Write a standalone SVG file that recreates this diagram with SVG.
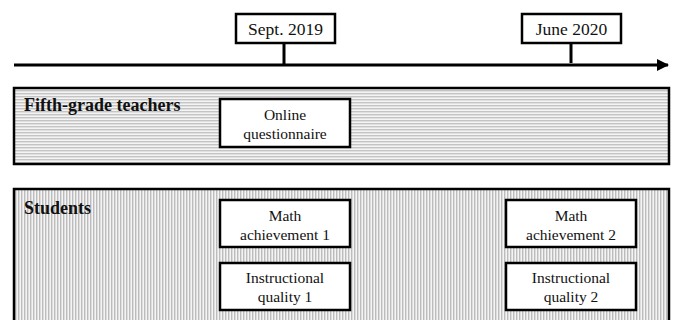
<svg xmlns="http://www.w3.org/2000/svg" width="674" height="320" viewBox="0 0 674 320">
<defs>
<pattern id="hstripe" width="4" height="3" patternUnits="userSpaceOnUse">
<rect width="4" height="3" fill="#f4f4f4"/>
<rect width="4" height="1.4" fill="#c4c4c4"/>
</pattern>
<pattern id="vstripe" width="3" height="4" patternUnits="userSpaceOnUse">
<rect width="3" height="4" fill="#f4f4f4"/>
<rect width="1.4" height="4" fill="#bcbcbc"/>
</pattern>
<marker id="arr" viewBox="0 0 12 12" refX="11" refY="6" markerWidth="12" markerHeight="12" markerUnits="userSpaceOnUse" orient="auto">
<path d="M0,0 L12,6 L0,12 Z" fill="#000"/>
</marker>
</defs>
<style>
.box{fill:#fff;stroke:#000;stroke-width:2.5}
.panel{stroke:#000;stroke-width:2.5}
text{font-family:'Liberation Serif','Times New Roman',serif;fill:#111}
.t{font-size:15.5px;text-anchor:middle}
.d{font-size:17.5px;text-anchor:middle}
.h{font-size:18px;font-weight:bold}
.ln{stroke:#000;stroke-width:3;fill:none}
</style>
<g id="connectors">
<line class="ln" x1="14" y1="65" x2="668" y2="65" marker-end="url(#arr)"/>
<line class="ln" x1="284" y1="43" x2="284" y2="64"/>
<line class="ln" x1="571" y1="44" x2="571" y2="63"/>
</g>
<g id="sept2019">
<rect class="box" x="236" y="14" width="99" height="29"/>
<text class="d" x="285.5" y="35">Sept. 2019</text>
</g>
<g id="june2020">
<rect class="box" x="522" y="14" width="99" height="29"/>
<text class="d" x="571.5" y="35">June 2020</text>
</g>
<g id="teachers">
<rect class="panel" x="14" y="88" width="655" height="76" fill="url(#hstripe)"/>
<text class="h" x="24" y="111">Fifth-grade teachers</text>
</g>
<g id="questionnaire">
<rect class="box" x="220" y="99" width="130" height="48"/>
<text class="t" x="285" y="120">Online</text>
<text class="t" x="285" y="139">questionnaire</text>
</g>
<g id="students">
<rect class="panel" x="14" y="189" width="655" height="140" fill="url(#vstripe)"/>
<text class="h" x="24" y="214">Students</text>
</g>
<g id="math1">
<rect class="box" x="220" y="200" width="130" height="47"/>
<text class="t" x="285" y="221">Math</text>
<text class="t" x="285" y="240">achievement 1</text>
</g>
<g id="iq1">
<rect class="box" x="220" y="263" width="130" height="47"/>
<text class="t" x="285" y="283">Instructional</text>
<text class="t" x="285" y="302">quality 1</text>
</g>
<g id="math2">
<rect class="box" x="506" y="200" width="130" height="47"/>
<text class="t" x="571" y="221">Math</text>
<text class="t" x="571" y="240">achievement 2</text>
</g>
<g id="iq2">
<rect class="box" x="506" y="263" width="130" height="47"/>
<text class="t" x="571" y="283">Instructional</text>
<text class="t" x="571" y="302">quality 2</text>
</g>
</svg>
